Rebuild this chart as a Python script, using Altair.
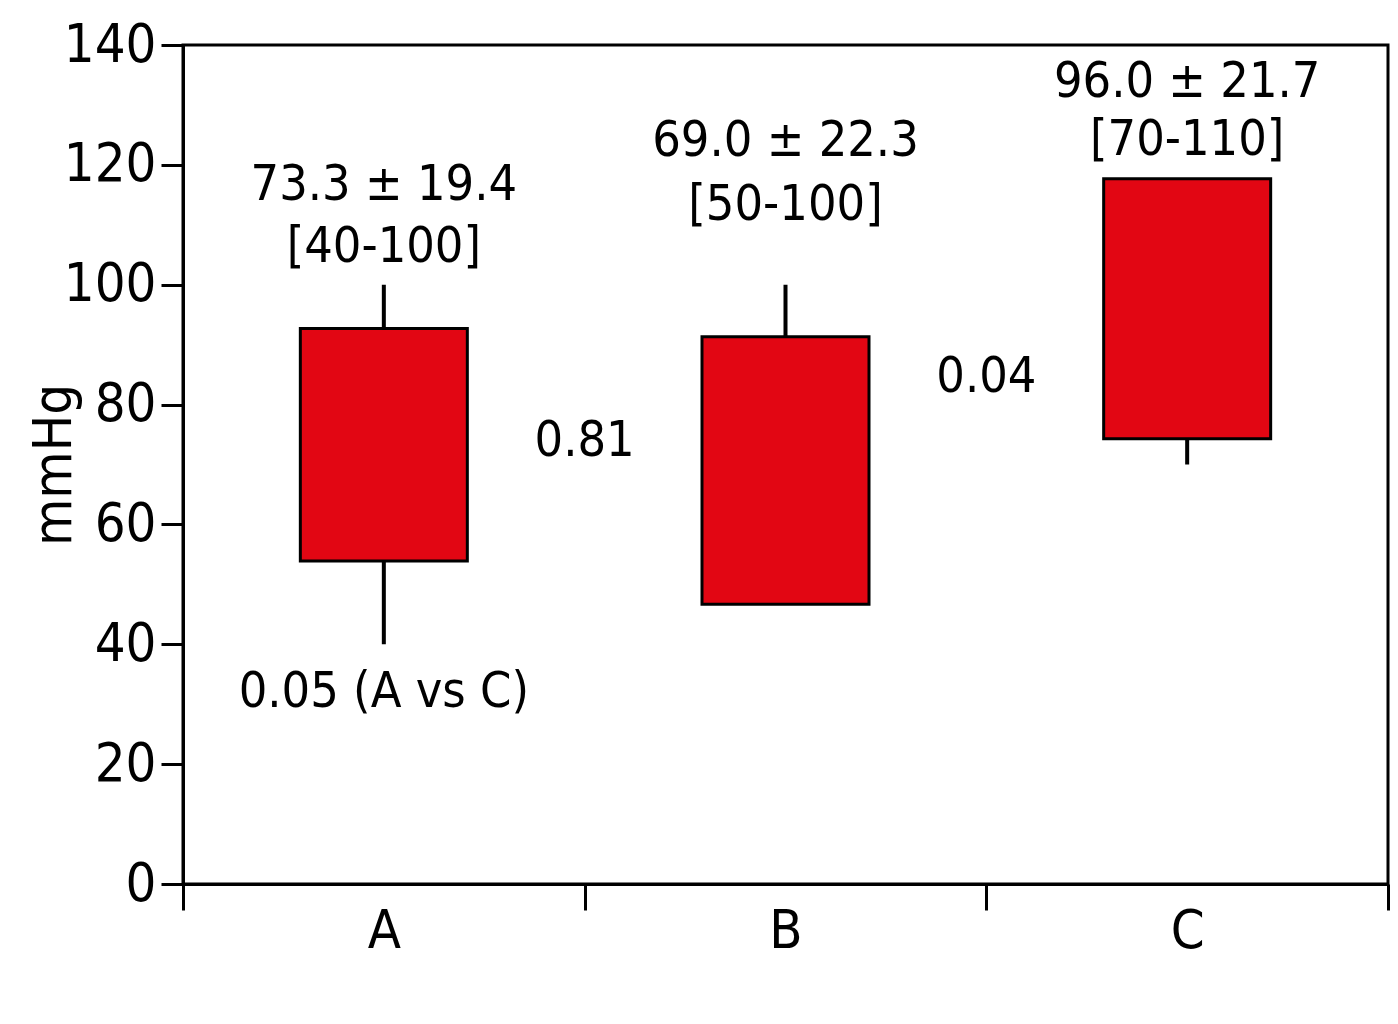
import altair as alt
import pandas as pd

groups = ["A", "B", "C"]
box_low = [53.9, 46.7, 74.3]
box_high = [92.7, 91.3, 117.7]
whisker_low = [40, 50, 70]
whisker_high = [100, 100, 110]

stat_text = ["73.3 ± 19.4", "[40-100]", "69.0 ± 22.3", "[50-100]", "96.0 ± 21.7", "[70-110]"]
stat_group = ["A", "A", "B", "B", "C", "C"]
stat_y = [116.6, 106.3, 124.0, 113.3, 133.8, 124.2]

p_center_text = ["0.05 (A vs C)"]
p_center_group = ["A"]
p_center_y = [32.0]
p_between_text = ["0.81", "0.04"]
p_between_group = ["A", "B"]
p_between_y = [73.9, 84.6]

FONT = "'Liberation Sans Narrow', 'Arial Narrow', 'DejaVu Sans Condensed', 'Liberation Sans', sans-serif"
FS_AX = 54
FS_TX = 50
W, H = 1205, 839

df = pd.DataFrame({"g": groups, "lo": box_low, "hi": box_high,
                   "wlo": whisker_low, "whi": whisker_high})
stats = pd.DataFrame({"g": stat_group, "t": stat_text, "y": stat_y})
pc = pd.DataFrame({"g": p_center_group, "t": p_center_text, "y": p_center_y})
pb = pd.DataFrame({"g": p_between_group, "t": p_between_text, "y": p_between_y})

x_enc = alt.X("g:N", title=None, sort=groups,
              scale=alt.Scale(paddingInner=0, paddingOuter=0),
              axis=alt.Axis(labelAngle=0, tickBand="extent", tickSize=26, tickWidth=3,
                            domainWidth=3, domainColor="black", tickColor="black",
                            labelFont=FONT, labelFontSize=FS_AX, labelColor="black",
                            labelBaseline="alphabetic", labelPadding=37))
yscale = alt.Scale(domain=[0, 140], nice=False, zero=True)
y_axis = alt.Axis(values=list(range(0, 141, 20)), tickSize=22, tickWidth=3, domainWidth=3,
                  domainColor="black", tickColor="black", labelFont=FONT, labelFontSize=FS_AX,
                  labelColor="black", labelPadding=5, grid=False,
                  title="mmHg", titleFont=FONT, titleFontSize=FS_AX, titleFontWeight="normal",
                  titleColor="black", titleAngle=-90, titleX=-113, titleY=H / 2,
                  titleAlign="center", titleBaseline="alphabetic")

base = alt.Chart(df)
whisk = base.mark_rule(color="black", strokeWidth=4).encode(
    x=x_enc, y=alt.Y("wlo:Q", scale=yscale, axis=y_axis), y2="whi:Q")
boxes = base.mark_bar(size=167, color="#E20613", stroke="black", strokeWidth=3).encode(
    x=alt.X("g:N", sort=groups), y=alt.Y("lo:Q", scale=yscale), y2="hi:Q")

txt_kw = dict(font=FONT, fontSize=FS_TX, color="black", baseline="middle", align="center")
t_stats = alt.Chart(stats).mark_text(**txt_kw).encode(
    x=alt.X("g:N", sort=groups), y=alt.Y("y:Q", scale=yscale), text="t:N")
t_pc = alt.Chart(pc).mark_text(**txt_kw).encode(
    x=alt.X("g:N", sort=groups), y=alt.Y("y:Q", scale=yscale), text="t:N")
t_pb = alt.Chart(pb).mark_text(dx=W / 6, **txt_kw).encode(
    x=alt.X("g:N", sort=groups), y=alt.Y("y:Q", scale=yscale), text="t:N")

chart = alt.layer(whisk, boxes, t_stats, t_pc, t_pb).properties(
    width=W, height=H,
    autosize=alt.AutoSizeParams(type="none"),
    padding={"left": 175, "top": 37, "right": 2, "bottom": 100},
).configure(background="white", view=alt.ViewConfig(stroke="black", strokeWidth=3))

chart.save("out.html", embed_options={"renderer": "svg", "actions": False})
